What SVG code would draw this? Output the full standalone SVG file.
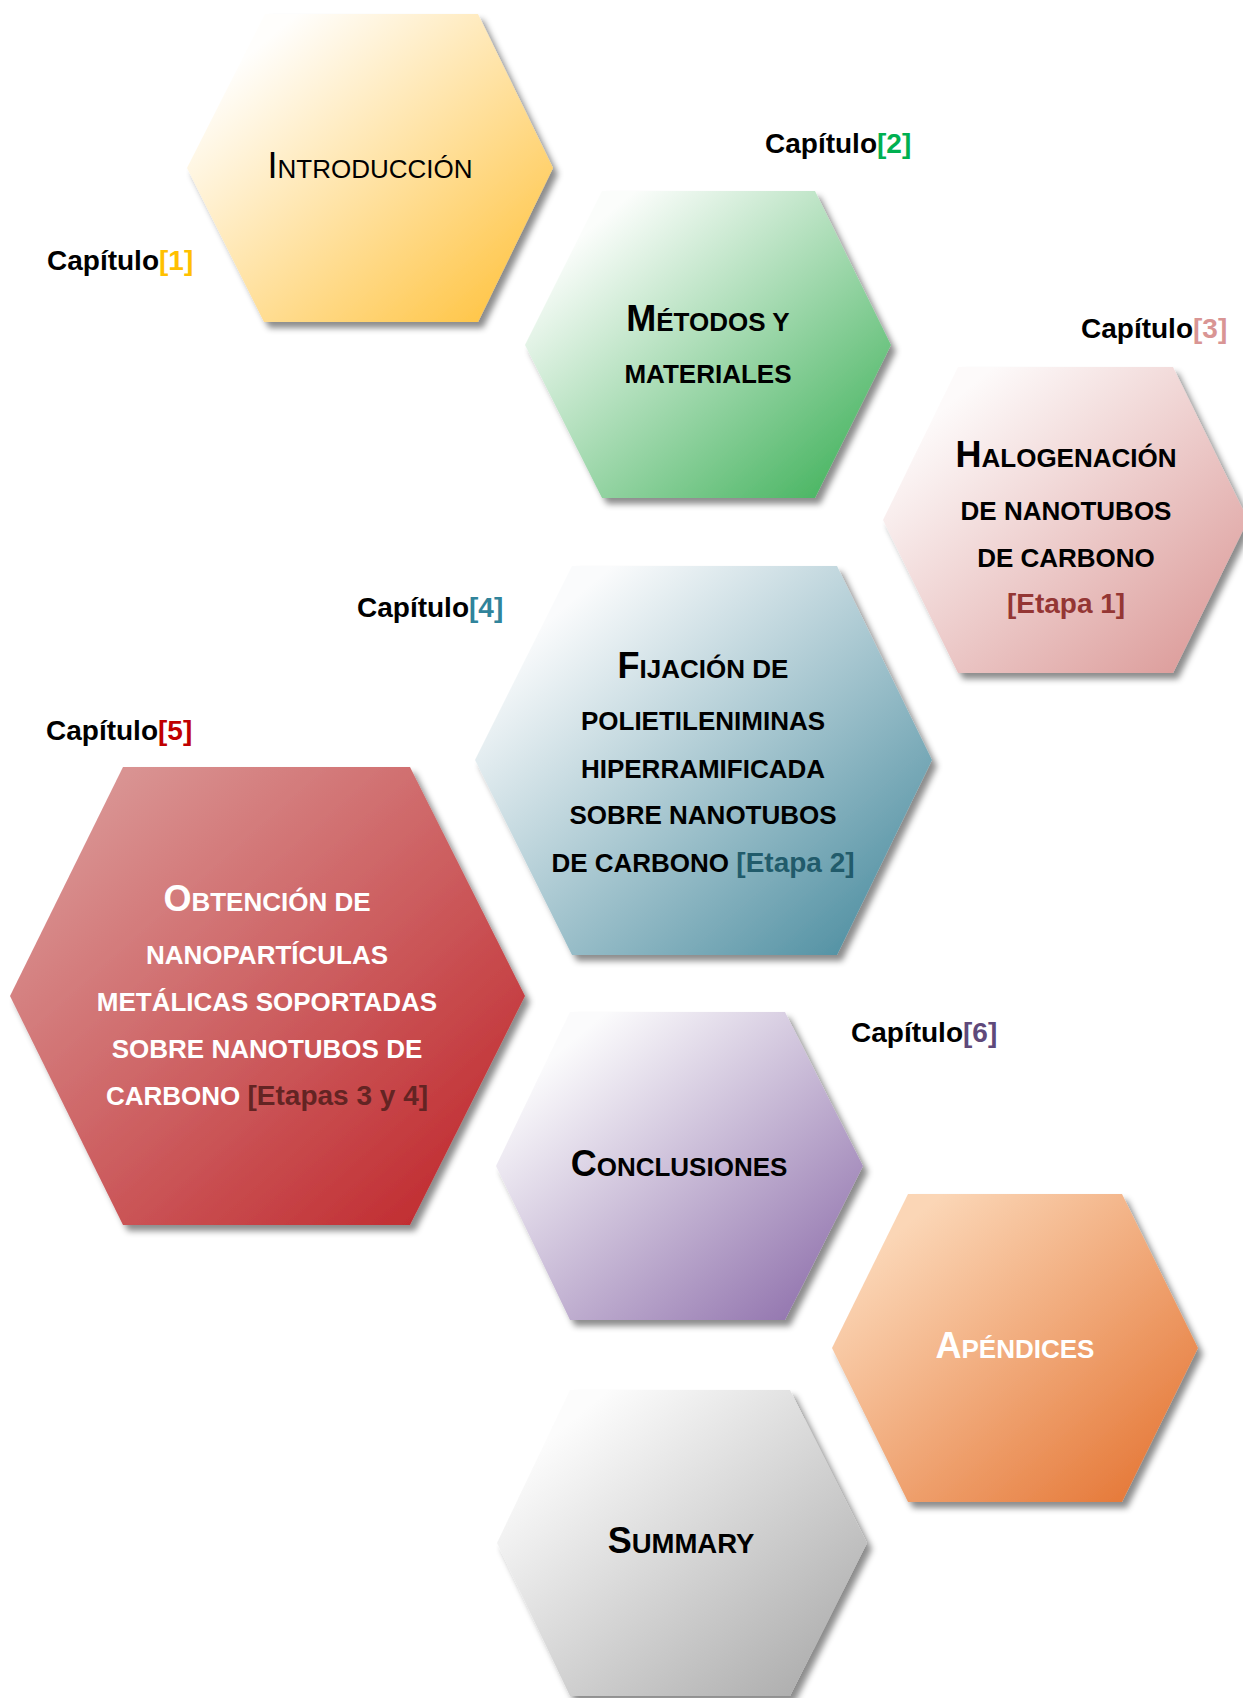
<svg xmlns="http://www.w3.org/2000/svg" width="1243" height="1698" viewBox="0 0 1243 1698">
<style>
text{font-family:"Liberation Sans",Arial,sans-serif;}
.cap{font-size:28px;font-weight:bold;fill:#000;}
.t{font-weight:bold;text-anchor:middle;fill:#000;}
.b{font-size:36px;}
.s{font-size:26px;}
.e{font-size:28px;}
.w{fill:#fff;}
</style>
<defs>
<filter id="sh" x="-10%" y="-10%" width="125%" height="125%">
<feDropShadow dx="5" dy="6" stdDeviation="3" flood-color="#000" flood-opacity="0.45"/>
</filter>
<linearGradient id="gIntro" x1="0" y1="0" x2="1" y2="1"><stop offset="0.15" stop-color="#fffefc"/><stop offset="1" stop-color="#ffbf33"/></linearGradient>
<linearGradient id="gMet" x1="0" y1="0" x2="1" y2="1"><stop offset="0.15" stop-color="#fbfdfb"/><stop offset="1" stop-color="#35ad51"/></linearGradient>
<linearGradient id="gHal" x1="0" y1="0" x2="1" y2="1"><stop offset="0.15" stop-color="#fdfafa"/><stop offset="1" stop-color="#d99391"/></linearGradient>
<linearGradient id="gFij" x1="0" y1="0" x2="1" y2="1"><stop offset="0.15" stop-color="#fafbfc"/><stop offset="1" stop-color="#3f8599"/></linearGradient>
<linearGradient id="gObt" x1="0" y1="0" x2="1" y2="1"><stop offset="0.12" stop-color="#d99392"/><stop offset="1" stop-color="#be2025"/></linearGradient>
<linearGradient id="gCon" x1="0" y1="0" x2="1" y2="1"><stop offset="0.15" stop-color="#fbfbfc"/><stop offset="1" stop-color="#8766a6"/></linearGradient>
<linearGradient id="gApe" x1="0" y1="0" x2="1" y2="1"><stop offset="0.15" stop-color="#fbd6b6"/><stop offset="1" stop-color="#e36e2a"/></linearGradient>
<linearGradient id="gSum" x1="0" y1="0" x2="1" y2="1"><stop offset="0.15" stop-color="#fcfcfc"/><stop offset="1" stop-color="#a5a5a5"/></linearGradient>
</defs>
<rect width="1243" height="1698" fill="#fff"/>
<g id="connectors"></g>

<g id="n-introduccion">
<polygon points="265,14 478,14 553,168 478,322 264,322 187,168" fill="url(#gIntro)" filter="url(#sh)"/>
<text class="t" x="370" y="178" style="font-weight:normal"><tspan class="b">I</tspan><tspan class="s">NTRODUCCIÓN</tspan></text>
<text class="cap" x="47" y="270">Capítulo<tspan fill="#ffc000">[1]</tspan></text>
</g>

<g id="n-metodos">
<polygon points="602,191 815,191 891,345 815,498 602,498 525,345" fill="url(#gMet)" filter="url(#sh)"/>
<text class="t" x="708" y="331"><tspan class="b">M</tspan><tspan class="s">ÉTODOS Y</tspan></text>
<text class="t" x="708" y="383"><tspan class="s">MATERIALES</tspan></text>
<text class="cap" x="765" y="153">Capítulo<tspan fill="#00b050">[2]</tspan></text>
</g>

<g id="n-halogenacion">
<polygon points="958,367 1173,367 1248,520 1173,673 958,673 883,520" fill="url(#gHal)" filter="url(#sh)"/>
<text class="t" x="1066" y="467"><tspan class="b">H</tspan><tspan class="s">ALOGENACIÓN</tspan></text>
<text class="t s" x="1066" y="520">DE NANOTUBOS</text>
<text class="t s" x="1066" y="567">DE CARBONO</text>
<text class="t e" x="1066" y="613" style="fill:#943634">[Etapa 1]</text>
<text class="cap" x="1081" y="338">Capítulo<tspan fill="#d99594">[3]</tspan></text>
</g>

<g id="n-fijacion">
<polygon points="572,566 837,566 932,760 837,955 572,955 475,760" fill="url(#gFij)" filter="url(#sh)"/>
<text class="t" x="703" y="678"><tspan class="b">F</tspan><tspan class="s">IJACIÓN DE</tspan></text>
<text class="t s" x="703" y="730">POLIETILENIMINAS</text>
<text class="t s" x="703" y="778">HIPERRAMIFICADA</text>
<text class="t s" x="703" y="824">SOBRE NANOTUBOS</text>
<text class="t" x="703" y="872"><tspan class="s">DE CARBONO </tspan><tspan class="e" style="fill:#215b6b">[Etapa 2]</tspan></text>
<text class="cap" x="357" y="617">Capítulo<tspan fill="#31849b">[4]</tspan></text>
</g>

<g id="n-obtencion">
<polygon points="123,767 410,767 525,996 410,1225 123,1225 10,996" fill="url(#gObt)" filter="url(#sh)"/>
<text class="t w" x="267" y="911"><tspan class="b">O</tspan><tspan class="s">BTENCIÓN DE</tspan></text>
<text class="t s w" x="267" y="964">NANOPARTÍCULAS</text>
<text class="t s w" x="267" y="1011">METÁLICAS SOPORTADAS</text>
<text class="t s w" x="267" y="1058">SOBRE NANOTUBOS DE</text>
<text class="t w" x="267" y="1105"><tspan class="s">CARBONO </tspan><tspan class="e" style="fill:#632423">[Etapas 3 y 4]</tspan></text>
<text class="cap" x="46" y="740">Capítulo<tspan fill="#c00000">[5]</tspan></text>
</g>

<g id="n-conclusiones">
<polygon points="570,1012 785,1012 863,1166 785,1320 570,1320 496,1166" fill="url(#gCon)" filter="url(#sh)"/>
<text class="t" x="679" y="1176"><tspan class="b">C</tspan><tspan class="s">ONCLUSIONES</tspan></text>
<text class="cap" x="851" y="1042">Capítulo<tspan fill="#5f497a">[6]</tspan></text>
</g>

<g id="n-apendices">
<polygon points="908,1194 1122,1194 1198,1348 1122,1502 908,1502 832,1348" fill="url(#gApe)" filter="url(#sh)"/>
<text class="t w" x="1015" y="1358"><tspan class="b">A</tspan><tspan class="s">PÉNDICES</tspan></text>
</g>

<g id="n-summary">
<polygon points="570,1390 790,1390 867,1543 790,1696 570,1696 497,1543" fill="url(#gSum)" filter="url(#sh)"/>
<text class="t" x="681" y="1553"><tspan class="b">S</tspan><tspan class="s" style="font-size:27.5px">UMMARY</tspan></text>
</g>
</svg>
